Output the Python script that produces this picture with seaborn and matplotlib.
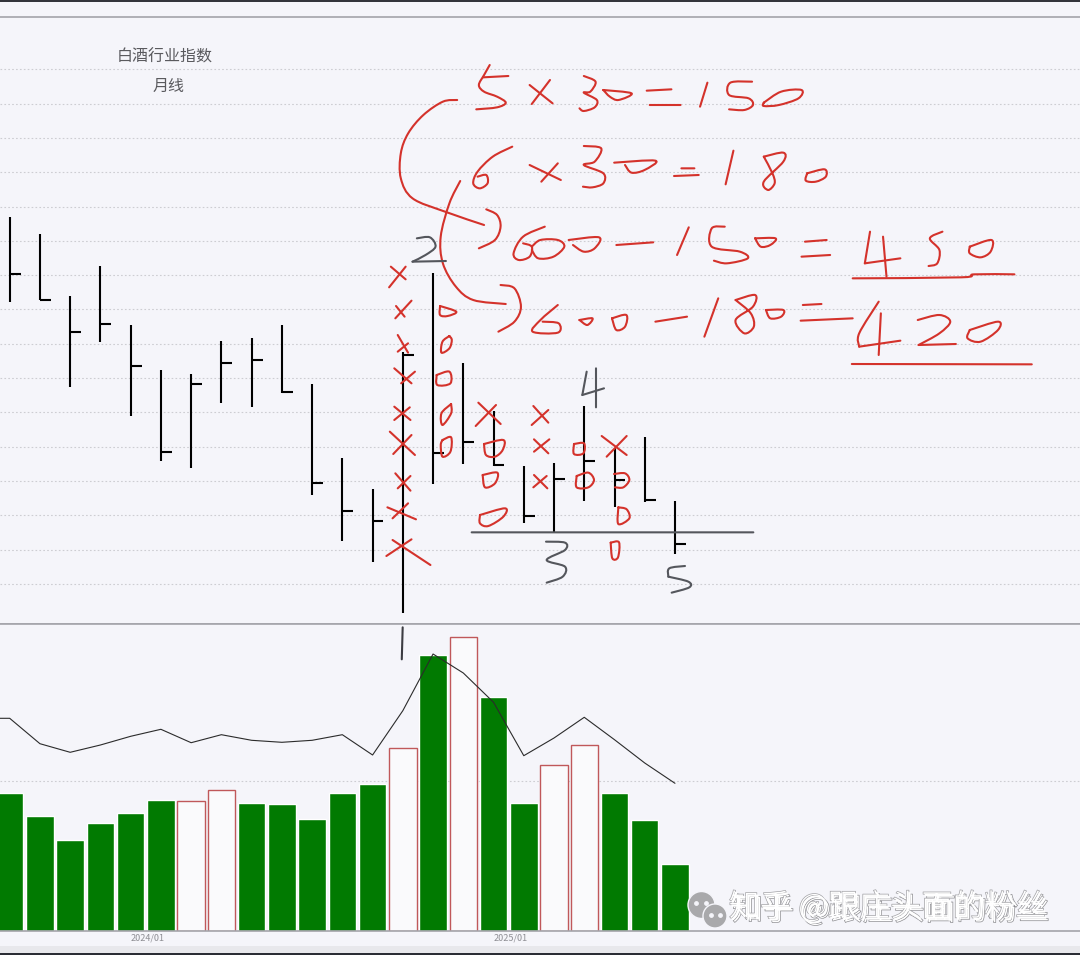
"""
白酒行业指数 monthly chart with volume, plus the hand drawn notes on top.
"""

import matplotlib.patheffects as pe
import matplotlib.pyplot as plt
import numpy as np
import seaborn as sns
from matplotlib.patches import PathPatch
from matplotlib.path import Path

W, H = 1080, 955
BG = '#f5f5fa'
RED = '#d4322b'
INK_GREY = '#54565c'
GRID = '#cdcdd2'

# monthly bars, values measured upward from the divider under the price panel
months = np.arange(23)
highs = [407.3, 390, 328.3, 358, 299, 254, 250.3, 283, 286, 299, 240, 166, 135.3,
         272.3, 351, 261, 213, 158.3, 161, 218, 176, 187, 123.3]
lows = [322.3, 324, 237.3, 282.3, 208, 163, 156, 221, 217, 231.3, 129, 83, 62,
        11, 140, 160, 158.3, 101, 92, 123, 117.3, 122.3, 70]
closes = [350, 324, 292, 300, 258, 172.3, 240, 261, 264, 232.3, 141.3, 113.3, 103,
          269, 171.3, 182, 159, 108, 145, 163, 144, 124, 80.3]
price_grid = [554.7, 520.4, 486.1, 451.8, 417.5, 383.2, 348.9, 314.6, 280.3, 246,
              211.7, 177.4, 143.1, 108.8, 74.5, 40.2]

volumes = [137.7, 115.3, 91, 108.3, 118, 131, 130, 141, 128, 127, 112, 138.3, 147.3,
           183, 276.3, 294, 234.3, 128, 166.3, 186, 138.3, 111, 67]
hollow = [6, 7, 13, 15, 18, 19]
volume_avg_x = np.arange(-1, 23)
volume_avg = [212.7, 212.7, 187.3, 178.7, 186, 194.7, 201.7, 188.3, 196.3, 190.7, 188.7,
              190.7, 196.3, 176, 220.3, 277, 258, 228.7, 175.3, 193, 213.7, 191.3, 168, 147.7]
date_months = [4, 16]
date_labels = ['2024/01', '2025/01']

title_main = '白酒行业指数'
title_sub = '月线'
watermark = '知乎 @跟庄头面的粉丝'

notes_upper = [
    # 5 x 30 = 150
    [(253, 45), (240, 75), (228, 105), (240, 125), (270, 140), (290, 158), (270, 172), (222, 178)],
    [(238, 82), (296, 78)],
    [(345, 105), (398, 160)], [(392, 90), (350, 162)],
    [(470, 78), (497, 95), (485, 125), (470, 128), (500, 150), (495, 172), (470, 183), (460, 175)],
    [(515, 120), (580, 130), (550, 150), (530, 140), (515, 120)],
    [(615, 122), (672, 118)], [(622, 165), (693, 165)],
    [(755, 98), (738, 170)],
    [(858, 95), (808, 98), (805, 135), (850, 145), (860, 165), (840, 180), (805, 178)],
    [(885, 158), (925, 125), (972, 120), (965, 145), (920, 165), (885, 168), (885, 158)],
    # curved arrows
    [(178, 150), (145, 155), (100, 195), (65, 250), (48, 310), (48, 385), (75, 445), (150, 485), (240, 525)],
    [(245, 478), (270, 495), (278, 530), (265, 570), (228, 595)],
    [(185, 393), (160, 460), (140, 560), (145, 640), (175, 710), (215, 750), (290, 762)],
    [(278, 705), (310, 715), (325, 770), (310, 815), (273, 845)],
    # 6 x 30 = 180
    [(305, 290), (260, 320), (225, 365), (215, 400), (230, 415), (248, 400), (245, 375), (225, 380)],
    [(345, 345), (417, 390)], [(410, 340), (372, 395)],
    [(470, 288), (510, 295), (495, 335), (470, 345), (515, 370), (515, 400), (490, 412), (468, 410)],
    [(540, 338), (635, 332), (610, 360), (580, 368), (565, 345)],
    [(695, 355), (725, 355)], [(678, 378), (735, 375)],
    [(815, 302), (797, 403)],
    [(885, 320), (930, 308), (930, 335), (885, 395), (895, 420), (910, 400), (905, 370), (885, 320)],
    [(985, 370), (1025, 358), (1028, 380), (1005, 395), (982, 392), (985, 370)],
    # 600 - 150 = 450
    [(380, 530), (330, 560), (308, 610), (320, 630), (345, 620), (350, 590), (330, 580)],
    [(350, 590), (370, 570), (410, 570), (425, 590), (400, 620), (365, 625), (350, 600)],
    [(435, 570), (505, 562), (495, 595), (470, 605), (445, 585)],
    [(545, 585), (630, 577)],
    [(712, 532), (685, 615)],
    [(795, 530), (765, 535), (765, 590), (830, 605), (848, 625), (800, 640), (770, 632)],
    [(865, 565), (912, 565), (900, 585), (878, 590), (865, 565)],
    [(980, 575), (1030, 570)], [(972, 620), (1038, 615)],
    [(1130, 545), (1118, 640)], [(1118, 640), (1200, 625)], [(1160, 560), (1168, 680)],
    [(1297, 545), (1268, 565), (1290, 600), (1285, 640), (1265, 648)],
    [(1360, 590), (1410, 570), (1408, 605), (1385, 622), (1360, 610), (1360, 590)],
    [(1090, 685), (1340, 682), (1370, 673), (1463, 673)],
    # 600 - 180 = 420
    [(410, 765), (370, 810), (352, 845), (410, 848), (412, 820), (375, 815)],
    [(460, 810), (490, 805), (478, 825), (460, 810)],
    [(535, 805), (568, 795), (565, 830), (545, 840), (535, 805)],
    [(635, 815), (708, 800)],
    [(780, 745), (748, 860)],
    [(820, 750), (865, 735), (860, 770), (820, 810), (840, 850), (862, 830), (855, 790), (820, 750)],
    [(890, 780), (930, 780), (925, 800), (900, 805), (890, 780)],
    [(975, 765), (1018, 762)], [(970, 812), (1090, 805)],
    [(1150, 755), (1105, 850), (1105, 890)], [(1105, 890), (1200, 872)], [(1155, 790), (1150, 915)],
    [(1240, 810), (1290, 795), (1315, 815), (1290, 850), (1242, 885)], [(1242, 885), (1328, 882)],
    [(1360, 840), (1425, 815), (1425, 840), (1385, 875), (1355, 865), (1360, 840)],
    [(1088, 942), (1503, 943)],
]

notes_left = [
    # X column
    [(1135, 200), (1178, 238)], [(1178, 200), (1130, 262)],
    [(1150, 318), (1175, 350)], [(1195, 302), (1148, 355)],
    [(1155, 405), (1185, 458)], [(1185, 430), (1155, 455)],
    [(1145, 505), (1195, 550)], [(1205, 515), (1165, 550)],
    [(1145, 620), (1192, 660)], [(1190, 622), (1145, 660)],
    [(1132, 695), (1205, 765)], [(1195, 705), (1142, 762)],
    [(1148, 820), (1192, 872)], [(1192, 828), (1155, 865)],
    [(1125, 922), (1208, 958)], [(1185, 910), (1140, 955)],
    [(1140, 1020), (1250, 1095)], [(1195, 1018), (1122, 1068)],
    # O column
    [(1278, 318), (1325, 335), (1300, 348), (1278, 345), (1278, 318)],
    [(1305, 408), (1285, 425), (1282, 458), (1305, 445), (1312, 420), (1305, 408)],
    [(1268, 525), (1305, 515), (1308, 550), (1270, 555), (1268, 525)],
    [(1310, 612), (1282, 640), (1285, 675), (1310, 640), (1310, 612)],
    [(1285, 720), (1310, 712), (1308, 755), (1285, 770), (1280, 735), (1285, 720)],
]

notes_right = [
    [(295, 158), (362, 222)], [(348, 165), (287, 228)],
    [(312, 282), (370, 270), (368, 300), (345, 320), (318, 315), (312, 282)],
    [(308, 375), (352, 368), (345, 400), (315, 412), (308, 375)],
    [(300, 495), (375, 475), (370, 500), (325, 528), (300, 520), (300, 495)],
    [(460, 168), (505, 218)], [(505, 180), (455, 225)],
    [(462, 268), (505, 310)], [(508, 268), (462, 305)],
    [(462, 375), (502, 415)], [(500, 378), (460, 412)],
    [(582, 282), (612, 280), (610, 310), (582, 312), (582, 282)],
    [(590, 378), (625, 368), (642, 390), (625, 412), (590, 412), (590, 378)],
    [(665, 258), (740, 315)], [(740, 258), (680, 320)],
    [(702, 372), (735, 370), (748, 390), (730, 412), (705, 412)],
    [(715, 472), (715, 522), (748, 505), (740, 478), (715, 472)],
    [(692, 578), (717, 577), (714, 622), (697, 625), (692, 578)],
]

wave_labels = [
    [(620, 65), (607, 135)], [(607, 135), (672, 115)], [(648, 55), (648, 172)],  # 4
    [(498, 575), (555, 578), (555, 600), (500, 630), (555, 650), (548, 680), (500, 698)],  # 3
    [(915, 648), (868, 655), (865, 680)], [(865, 680), (925, 695), (928, 712), (875, 728)],  # 5
    [(275, 547), (1120, 547)],  # neckline
]
wave_two = [[(85, 565), (115, 562), (128, 590), (105, 615), (75, 635)], [(75, 635), (152, 633)]]
wave_one = [[(902, 22), (900, 118)]]

sns.set_theme(style='white', rc={'axes.facecolor': BG, 'figure.facecolor': BG})
plt.rcParams['font.family'] = ['Noto Sans CJK SC', 'DejaVu Sans']

fig = plt.figure(figsize=(W / 100, H / 100), dpi=100)


def panel(top, bottom):
    """Full width axes between two pixel rows."""
    return fig.add_axes([0, (H - bottom) / H, 1, (bottom - top) / H])


def month_limits(ax):
    # bar 0 sits at 9.7 px, one month is 30.24 px wide
    ax.set_xlim(-9.7 / 30.24, (W - 9.7) / 30.24)


def draw_strokes(ax, strokes, x0, sx, y0, sy, color, lw=1.5):
    """Draw each stroke as a smooth bezier running through its traced points."""
    for stroke in strokes:
        pts = np.array(stroke, dtype=float) / [sx, sy] + [x0, y0]
        verts = [pts[0]]
        codes = [Path.MOVETO]
        for i in range(len(pts) - 1):
            before = pts[max(i - 1, 0)]
            after = pts[min(i + 2, len(pts) - 1)]
            verts += [pts[i] + (pts[i + 1] - before) / 6, pts[i + 1] - (after - pts[i]) / 6, pts[i + 1]]
            codes += [Path.CURVE4] * 3
        ax.add_patch(PathPatch(Path(verts, codes), fill=False, edgecolor=color, lw=lw,
                               capstyle='round', joinstyle='round'))


# price panel
ax_price = panel(17, 624)
ax_price.vlines(months, lows, highs, color='black', lw=1.5, zorder=3)
ax_price.hlines(closes, months, months + 0.36, color='black', lw=1.5, zorder=3)
month_limits(ax_price)
ax_price.set_ylim(0, 607)
ax_price.set_yticks(price_grid)
ax_price.set_xticks([])
ax_price.tick_params(left=False, labelleft=False)
ax_price.grid(axis='y', color=GRID, lw=0.8, ls=(0, (1.5, 2)))
ax_price.set_axisbelow(True)

# volume panel
ax_vol = panel(624, 931)
is_hollow = np.isin(months, hollow)
sns.barplot(x=months[~is_hollow], y=np.array(volumes)[~is_hollow], native_scale=True,
            width=0.91, color='#017a01', saturation=1, ax=ax_vol, zorder=2)
sns.barplot(x=months[is_hollow], y=np.array(volumes)[is_hollow], native_scale=True,
            width=0.91, color='#fafafc', saturation=1, edgecolor='#c0585a', linewidth=1,
            ax=ax_vol, zorder=2)
sns.lineplot(x=volume_avg_x, y=volume_avg, color='#2b2b2b', lw=0.8, errorbar=None,
             ax=ax_vol, zorder=4)
month_limits(ax_vol)
ax_vol.set_ylim(0, 307)
ax_vol.set_yticks([150])
ax_vol.tick_params(left=False, labelleft=False, bottom=False, length=0, pad=2)
ax_vol.set_xticks(date_months)
ax_vol.set_xticklabels(date_labels, fontsize=6.5, color='#8e8e94', ha='left')
ax_vol.set_xlabel('')
ax_vol.set_ylabel('')
ax_vol.grid(axis='y', color=GRID, lw=0.8, ls=(0, (1.5, 2)))
ax_vol.set_axisbelow(True)

for ax in (ax_price, ax_vol):
    for side in ('left', 'right'):
        ax.spines[side].set_visible(False)
    for side in ('top', 'bottom'):
        ax.spines[side].set_color('#a4a4aa')
        ax.spines[side].set_linewidth(1.2)

# screen space layer for the notes and window edges
ax_ink = fig.add_axes([0, 0, 1, 1], zorder=10)
ax_ink.set_xlim(0, W)
ax_ink.set_ylim(H, 0)
ax_ink.axis('off')
ax_ink.patch.set_alpha(0)

ax_ink.fill_between([0, W], 0, 2, color='#33353c', lw=0)
ax_ink.fill_between([0, W], 946, 953, color='#e8e8ec', lw=0)
ax_ink.fill_between([0, W], 953, H, color='#2b2d35', lw=0)

ax_ink.text(164.5, 57.5, title_main, fontsize=11.5, color='#5a5a5e', ha='center', va='center')
ax_ink.text(169, 86.5, title_sub, fontsize=11.5, color='#5a5a5e', ha='center', va='center')

draw_strokes(ax_ink, notes_upper, 380, 2.306, 50, 3, RED)
draw_strokes(ax_ink, notes_left, 0, 2.904, 200, 3, RED)
draw_strokes(ax_ink, notes_right, 380, 3, 350, 3, RED)
draw_strokes(ax_ink, wave_labels, 380, 3, 350, 3, INK_GREY)
draw_strokes(ax_ink, wave_two, 380, 2.306, 50, 3, INK_GREY)
draw_strokes(ax_ink, wave_one, 0, 2.24, 620, 3, '#3c3c42')

# watermark: icon and ghosted white text
ax_ink.scatter([701.5, 715], [905, 916], s=[378, 300], color='#a9a9ab', edgecolors=[BG, BG],
               linewidths=1, zorder=5)
ax_ink.scatter([696, 706, 711, 720], [903, 903, 915, 915], s=6, color=BG, zorder=6)
ax_ink.text(889, 909, watermark, fontsize=22.5, color='white', ha='center', va='center', zorder=7,
            path_effects=[pe.Stroke(linewidth=0.5, foreground='#8c8c90', offset=(1.4, -1.4)),
                          pe.Stroke(linewidth=0.5, foreground='#a0a0a4', offset=(-1.2, 1.4)),
                          pe.Normal()])

plt.savefig('out.png', dpi=100, facecolor=BG)
plt.close()
